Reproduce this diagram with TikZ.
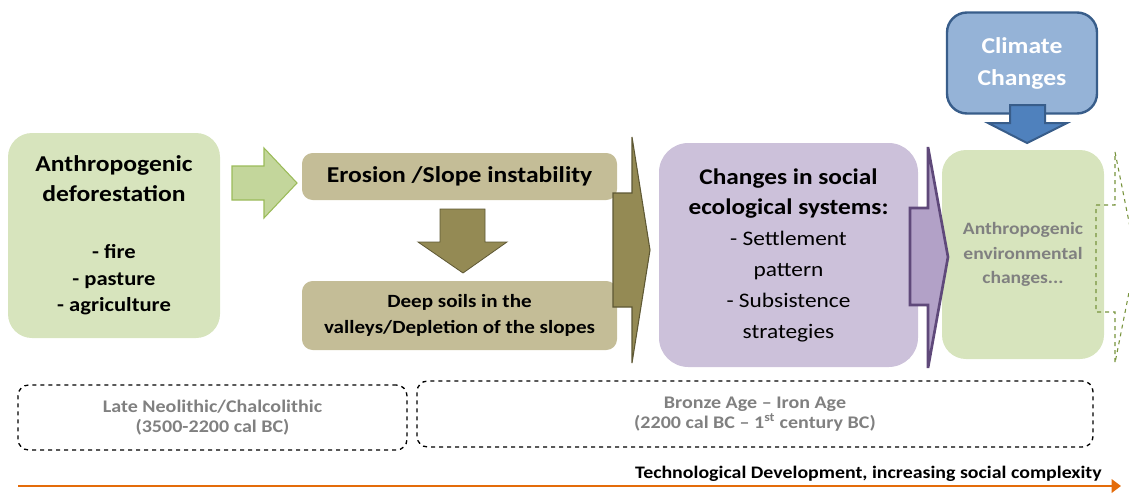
\documentclass[tikz,border=0pt]{standalone}
\usepackage{fontspec}
\setmainfont{Carlito}[FakeStretch=1.13]
\usepackage{tikz}
\usetikzlibrary{arrows.meta}

\definecolor{greenfill}{RGB}{215,228,189}
\definecolor{greenarrow}{RGB}{195,214,155}
\definecolor{greenline}{RGB}{155,187,89}
\definecolor{tan}{RGB}{196,189,151}
\definecolor{olive}{RGB}{148,138,84}
\definecolor{olivedark}{RGB}{94,88,52}
\definecolor{lilac}{RGB}{204,193,218}
\definecolor{purplearrow}{RGB}{178,161,199}
\definecolor{purpleline}{RGB}{95,73,122}
\definecolor{skyfill}{RGB}{149,179,215}
\definecolor{navyline}{RGB}{56,93,138}
\definecolor{bluearrow}{RGB}{79,129,189}
\definecolor{dashgreen}{RGB}{119,147,60}
\definecolor{timeline}{RGB}{228,108,10}
\definecolor{fadetext}{RGB}{128,128,128}

\tikzset{
  box/.style={align=center, inner sep=0pt},
  period/.style={box, draw=black, dashed, line width=1pt, rounded corners=8pt,
    text=fadetext, font=\bfseries\fontsize{13.3}{15}\selectfont},
}

\begin{document}
\begin{tikzpicture}[x=0.75pt,y=-0.75pt]
\useasboundingbox (0,0) rectangle (1129,493);
\clip (0,0) rectangle (1129,493);
%
\node[box, fill=greenfill, rounded corners=18pt, minimum width=159pt, minimum height=153.75pt,
  font=\bfseries\fontsize{15}{19.9}\selectfont] (defor) at (114,235.5)
  {\fontsize{17}{19.9}\selectfont Anthropogenic\\[2.6pt] \fontsize{17}{19.9}\selectfont deforestation\\[22.8pt]
   - fire\\ - pasture\\ - agriculture};
\node[box, fill=tan, rounded corners=8pt, minimum width=236.25pt, minimum height=35.25pt,
  font=\bfseries\fontsize{17}{20}\selectfont] (erosion) at (459.5,176.5) {Erosion /Slope instability};
\node[box, fill=tan, rounded corners=8pt, minimum width=236.25pt, minimum height=51.75pt,
  font=\bfseries\fontsize{14}{20}\selectfont] (soils) at (459.5,315.5) {Deep soils in the\\ valleys/Depletion of the slopes};
\node[box, fill=lilac, rounded corners=22pt, minimum width=194.25pt, minimum height=168pt,
  font=\fontsize{15.5}{23.1}\selectfont] (social) at (788.5,255)
  {\bfseries\fontsize{16.8}{23.1}\selectfont Changes in social\\ \bfseries\fontsize{16.8}{23.1}\selectfont ecological systems:\\
   - Settlement\\ pattern\\ - Subsistence\\ strategies};
\node[box, fill=greenfill, rounded corners=18pt, minimum width=121.5pt, minimum height=156.75pt,
  text=fadetext, font=\bfseries\fontsize{13}{18.4}\selectfont] (envchange) at (1023,254.5)
  {Anthropogenic\\ environmental\\ changes...};
\node[box, fill=skyfill, draw=navyline, line width=1.8pt, rounded corners=15pt, minimum width=112.5pt, minimum height=75.75pt,
  text=white, font=\bfseries\fontsize{17}{24}\selectfont] (climate) at (1022,63) {Climate\\ Changes};
%
\node[period, minimum width=291.75pt, minimum height=48.75pt] (neolithic) at (212.5,417.5)
  {Late Neolithic/Chalcolithic\\ (3500-2200 cal BC)};
\node[period, minimum width=507pt, minimum height=49.5pt] (bronze) at (755,414)
  {Bronze Age -- Iron Age\\ (2200 cal BC -- 1\textsuperscript{st} century BC)};
%
\fill[greenarrow, draw=greenline, line width=0.8pt] (232,166) -- (264,166) -- (264,148) -- (297,183) -- (264,218) -- (264,200) -- (232,200) -- cycle;
\fill[olive, draw=olivedark, line width=0.6pt] (440,209) -- (485,209) -- (485,242) -- (507,242) -- (463,273) -- (418,242) -- (440,242) -- cycle;
\fill[olive, draw=olivedark, line width=0.8pt] (613,193) -- (632,193) -- (632,137) -- (650,250) -- (632,363) -- (632,307) -- (613,307) -- cycle;
\fill[purplearrow, draw=purpleline, line width=2pt] (910,208) -- (928,208) -- (928,147) -- (948,257) -- (928,368) -- (928,305) -- (910,305) -- cycle;
\fill[bluearrow, draw=navyline, line width=1.5pt] (1010,105) -- (1045,105) -- (1045,123) -- (1067,123) -- (1027,143) -- (988,123) -- (1010,123) -- cycle;
\draw[dashgreen, dashed, line width=0.8pt] (1096,205) -- (1115,205) -- (1115,152) -- (1136,257) -- (1115,363) -- (1115,312) -- (1096,312) -- cycle;
%
\coordinate (tstart) at (18,486);
\coordinate (tend) at (1121,486);
\draw[timeline, line width=2.2pt, -{Triangle[length=7pt,width=10pt]}] (tstart) -- (tend);
\node[anchor=base east, inner sep=0pt, font=\bfseries\fontsize{13.2}{15}\selectfont] (tech) at (1102,478)
  {Technological Development, increasing social complexity};
\end{tikzpicture}
\end{document}
